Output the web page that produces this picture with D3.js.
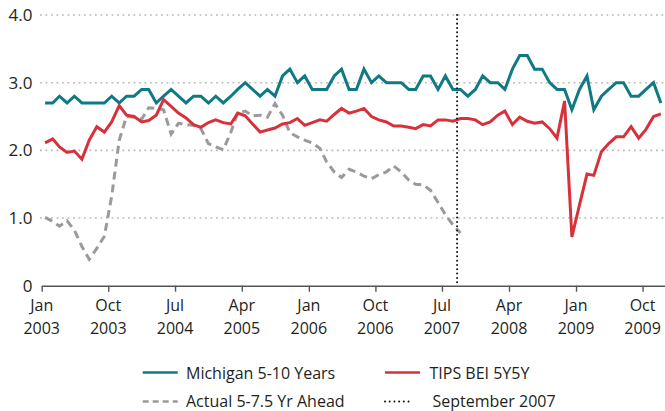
<!DOCTYPE html>
<html>
<head>
<meta charset="utf-8">
<script src="https://cdn.jsdelivr.net/npm/d3@7/dist/d3.min.js"></script>
<style>
  html, body { margin: 0; padding: 0; background: #fff; }
  svg { display: block; font-family: "Open Sans", "Noto Sans", sans-serif; }
</style>
</head>
<body>
<div id="chart"></div>
<script>
// ---- Data (monthly, Jan 2003 onward) ----
const startYear = 2003;
const michigan = [
  2.7,2.7,2.8,2.7,2.8,2.7,2.7,2.7,2.7,2.8,2.7,2.8,
  2.8,2.9,2.9,2.7,2.8,2.9,2.8,2.7,2.8,2.8,2.7,2.8,
  2.7,2.8,2.9,3.0,2.9,2.8,2.9,2.8,3.1,3.2,3.0,3.1,
  2.9,2.9,2.9,3.1,3.2,2.9,2.9,3.2,3.0,3.1,3.0,3.0,
  3.0,2.9,2.9,3.1,3.1,2.9,3.1,2.9,2.9,2.8,2.9,3.1,
  3.0,3.0,2.9,3.2,3.4,3.4,3.2,3.2,3.0,2.9,2.9,2.6,
  2.9,3.1,2.6,2.8,2.9,3.0,3.0,2.8,2.8,2.9,3.0,2.7
];
const tips = [
  2.11,2.17,2.05,1.97,1.99,1.87,2.15,2.35,2.27,2.42,2.66,2.52,
  2.50,2.42,2.44,2.52,2.75,2.65,2.55,2.48,2.38,2.34,2.41,2.45,
  2.41,2.39,2.55,2.51,2.39,2.27,2.30,2.33,2.39,2.41,2.47,2.37,
  2.41,2.45,2.43,2.53,2.62,2.55,2.58,2.62,2.50,2.45,2.42,2.36,
  2.36,2.34,2.32,2.38,2.36,2.45,2.45,2.43,2.47,2.47,2.45,2.38,
  2.42,2.52,2.58,2.38,2.49,2.43,2.40,2.42,2.32,2.18,2.73,0.72,
  1.19,1.65,1.63,1.98,2.10,2.20,2.20,2.35,2.18,2.31,2.50,2.54
];
const actual = [
  1.01,0.95,0.88,0.96,0.82,0.58,0.39,0.55,0.73,1.32,2.15,2.50,
  2.49,2.46,2.63,2.62,2.60,2.24,2.40,2.38,2.37,2.32,2.10,2.05,
  2.01,2.27,2.55,2.58,2.51,2.52,2.49,2.69,2.52,2.26,2.20,2.15,
  2.11,2.03,1.83,1.68,1.60,1.72,1.68,1.62,1.58,1.64,1.68,1.77,
  1.68,1.56,1.50,1.49,1.41,1.23,1.05,0.90,0.78
];
const yTicks = [0, 1, 2, 3, 4];
const yTickLabels = ["0", "1.0", "2.0", "3.0", "4.0"];
const xTickMonths = ["Jan","Oct","Jul","Apr","Jan","Oct","Jul","Apr","Jan","Oct"];
const xTickYears  = ["2003","2003","2004","2005","2006","2006","2007","2008","2009","2009"];
const xTickOffsets = [0, 9, 18, 27, 36, 45, 54, 63, 72, 81]; // months since Jan 2003
const markerDate = [2007, 8]; // September 2007
const legendItems = [
  { label: "Michigan 5-10 Years", key: "michigan" },
  { label: "TIPS BEI 5Y5Y", key: "tips" },
  { label: "Actual 5-7.5 Yr Ahead", key: "actual" },
  { label: "September 2007", key: "sept" }
];

// ---- Setup ----
const W = 665, H = 411;
const textColor = "#231f20";
const styles = {
  michigan: { color: "#0f7a84", width: 3, dash: null },
  tips: { color: "#d9313b", width: 3, dash: null },
  actual: { color: "#9a9a9c", width: 3, dash: "8,5" },
  sept: { color: "#111", width: 2, dash: "1.8,2.7" }
};

const svg = d3.select("#chart").append("svg").attr("width", W).attr("height", H);

const x = d3.scaleTime()
  .domain([new Date(2003, 0, 1), new Date(2010, 0, 1)])
  .range([41.7, 665]);
const y = d3.scaleLinear().domain([0, 4]).range([285.7, 15]);

const toDate = i => new Date(startYear, i, 15);

// gridlines
svg.append("g").selectAll("line").data(yTicks.filter(d => d > 0)).join("line")
  .attr("x1", 40).attr("x2", W)
  .attr("y1", d => y(d)).attr("y2", d => y(d))
  .attr("stroke", "#b9b9b9").attr("stroke-width", 1.6)
  .attr("stroke-dasharray", "1.8,3.7");

// y labels
svg.append("g").selectAll("text").data(yTicks).join("text")
  .attr("x", 32.5).attr("y", d => y(d))
  .attr("dy", "0.36em")
  .attr("text-anchor", "end")
  .attr("font-size", 17)
  .attr("fill", textColor)
  .text((d, i) => yTickLabels[i]);

// x axis
const tickDates = xTickOffsets.map(m => new Date(startYear, m, 1));
const xAxis = d3.axisBottom(x).tickValues(tickDates).tickSize(6).tickSizeOuter(0).tickFormat("");
const gx = svg.append("g").attr("transform", `translate(0,${y(0)})`).call(xAxis);
gx.select(".domain").attr("stroke", "#555").attr("stroke-width", 1.6);
gx.selectAll(".tick line").attr("stroke", "#555").attr("stroke-width", 1.4);

const labels = svg.append("g").selectAll("text").data(tickDates).join("text")
  .attr("text-anchor", "middle")
  .attr("font-size", 16)
  .attr("fill", textColor);
labels.append("tspan").attr("x", d => x(d)).attr("y", 310.5).text((d, i) => xTickMonths[i]);
labels.append("tspan").attr("x", d => x(d)).attr("y", 334).text((d, i) => xTickYears[i]);

// lines
const line = d3.line().x((d, i) => x(toDate(i))).y(d => y(d));
function drawSeries(data, st) {
  svg.append("path").datum(data)
    .attr("fill", "none")
    .attr("stroke", st.color)
    .attr("stroke-width", st.width)
    .attr("stroke-linejoin", "miter")
    .attr("stroke-dasharray", st.dash)
    .attr("d", line);
}
drawSeries(actual, styles.actual);
drawSeries(michigan, styles.michigan);
drawSeries(tips, styles.tips);

// September 2007 marker
const mx = x(new Date(markerDate[0], markerDate[1], 1));
svg.append("line")
  .attr("x1", mx).attr("x2", mx).attr("y1", y(4)).attr("y2", y(0))
  .attr("stroke", styles.sept.color).attr("stroke-width", styles.sept.width)
  .attr("stroke-linecap", "round")
  .attr("stroke-dasharray", "0.01,4.3");

// legend
const legendPos = [
  { lx: 142.7, ly: 372.5, tx: 186, ty: 378.5 },
  { lx: 385, ly: 372.5, tx: 429.5, ty: 378.5 },
  { lx: 142.7, ly: 401.5, tx: 186, ty: 407 },
  { lx: 385, ly: 401.5, tx: 432.5, ty: 407 }
];
const lg = svg.append("g");
legendItems.forEach((it, i) => {
  const p = legendPos[i];
  const st = styles[it.key];
  const len = it.key === "sept" ? 28 : 35;
  const l = lg.append("line")
    .attr("x1", p.lx).attr("x2", p.lx + len).attr("y1", p.ly).attr("y2", p.ly)
    .attr("stroke", st.color);
  if (it.key === "sept") {
    l.attr("stroke-width", 2).attr("stroke-linecap", "round").attr("stroke-dasharray", "0.01,4.7");
  } else if (it.key === "actual") {
    l.attr("stroke-width", 2.5).attr("stroke-dasharray", "6,4");
  } else {
    l.attr("stroke-width", 2.5);
  }
  lg.append("text").attr("x", p.tx).attr("y", p.ty)
    .attr("font-size", 16).attr("fill", textColor).text(it.label);
});
</script>
</body>
</html>
